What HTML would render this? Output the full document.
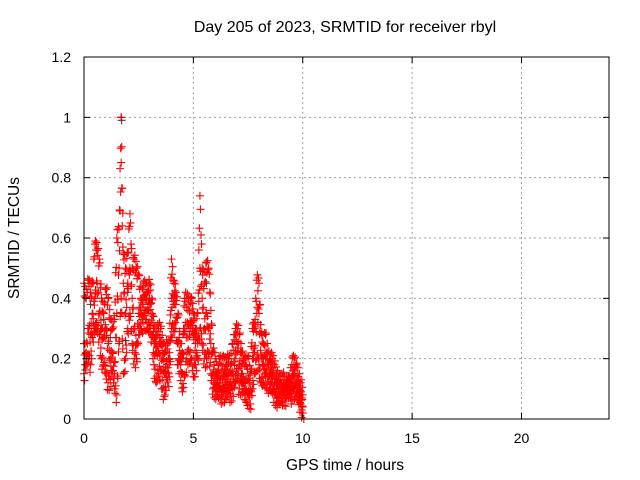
<!DOCTYPE html>
<html><head><meta charset="utf-8"><style>
html,body{margin:0;padding:0;background:#fff}
svg{display:block;font-family:"Liberation Sans",sans-serif}
</style></head><body>
<svg id="chart" width="640" height="480" viewBox="0 0 640 480" xmlns="http://www.w3.org/2000/svg">
<rect width="640" height="480" fill="#fff"/>
<text x="345" y="32" font-size="16" text-anchor="middle">Day 205 of 2023, SRMTID for receiver rbyl</text>
<text x="345" y="470" font-size="15.5" text-anchor="middle">GPS time / hours</text>
<text x="0" y="0" font-size="15.5" text-anchor="middle" transform="translate(19,238) rotate(-90)">SRMTID / TECUs</text>
<g id="grid"></g><g id="gray"></g><g id="red"></g><g id="axes"></g>
</svg>
<script>
const xTicks=[0,5,10,15,20];
const yTicks=[0,0.2,0.4,0.6,0.8,1,1.2];
const yTickLabels=["0","0.2","0.4","0.6","0.8","1","1.2"];
const startHour=0, stepHour=0.1;
const hiVals=[.45,.40,.46,.42,.45,.58,.56,.53,.40,.35,.43,.40,.33,.30,.33,.60,.63,1.0,.55,.50,.55,.68,.50,.53,.50,.48,.40,.43,.45,.42,.45,.40,.30,.28,.30,.30,.25,.22,.25,.22,.53,.45,.42,.35,.25,.22,.40,.40,.38,.40,.35,.30,.35,.74,.50,.45,.52,.50,.36,.22,.20,.15,.20,.18,.20,.18,.20,.18,.25,.28,.30,.28,.22,.20,.18,.20,.15,.30,.30,.46,.45,.28,.25,.28,.22,.20,.20,.18,.15,.14,.12,.14,.12,.13,.12,.18,.20,.18,.14,.12,.08];
const midVals=[.25,.22,.30,.28,.35,.40,.45,.35,.30,.27,.30,.25,.20,.22,.15,.35,.50,.85,.45,.35,.45,.50,.40,.30,.25,.35,.35,.38,.40,.36,.38,.35,.25,.22,.22,.25,.20,.15,.18,.18,.40,.40,.38,.25,.20,.15,.30,.30,.30,.32,.28,.25,.25,.50,.40,.30,.35,.30,.25,.15,.12,.12,.12,.10,.14,.12,.15,.12,.15,.20,.25,.18,.15,.12,.10,.12,.10,.20,.22,.35,.35,.20,.18,.20,.18,.15,.15,.12,.10,.10,.10,.10,.10,.10,.10,.12,.14,.12,.10,.08,.04];
const loVals=[.15,.18,.20,.18,.28,.30,.30,.28,.20,.18,.15,.12,.13,.16,.10,.08,.25,.40,.15,.20,.30,.35,.25,.20,.20,.28,.30,.32,.33,.30,.30,.28,.18,.12,.15,.16,.10,.08,.13,.14,.30,.30,.30,.18,.18,.09,.14,.20,.22,.20,.14,.18,.20,.30,.25,.20,.20,.22,.15,.10,.10,.08,.08,.08,.09,.07,.10,.08,.10,.12,.15,.10,.12,.09,.06,.08,.05,.10,.15,.20,.18,.12,.12,.14,.12,.10,.10,.08,.07,.06,.06,.08,.07,.08,.08,.08,.10,.08,.06,.05,.02];
const grayT=[1.7,1.72,0.3,0.9,1.2,2.0,2.8,3.3,4.1,4.8,5.6,6.5,7.3,8.2,9.2,0.1,1.9,3.0,5.0];
const grayV=[1.0,0.99,0.38,0.33,0.27,0.42,0.36,0.25,0.38,0.3,0.45,0.15,0.14,0.2,0.1,0.2,0.26,0.4,0.28];
const X0=84,X1=609,Y0=419,Y1=57;
const sx=h=>X0+(h-0)/24*(X1-X0);
const sy=v=>Y0-(v/1.2)*(Y0-Y1);
const NS="http://www.w3.org/2000/svg";
function mk(tag,attrs,parent){const e=document.createElementNS(NS,tag);for(const k in attrs)e.setAttribute(k,attrs[k]);parent.appendChild(e);return e;}
const grid=document.getElementById('grid'),axes=document.getElementById('axes');
xTicks.forEach(t=>{const x=sx(t);
 if(t>0){const g=mk('line',{x1:x,x2:x,y1:Y1,y2:Y0,stroke:'#a0a0a0','stroke-dasharray':'2,3'},grid);}
 mk('line',{x1:x,x2:x,y1:Y0,y2:Y0-6,stroke:'#000'},axes);mk('line',{x1:x,x2:x,y1:Y1,y2:Y1+6,stroke:'#000'},axes);
 const l=mk('text',{x:x,y:443,'font-size':14,'text-anchor':'middle'},axes);l.textContent=t;
 });
yTicks.forEach((t,i)=>{const y=sy(t);
 if(t>0&&t<1.2){const g=mk('line',{x1:X0,x2:X1,y1:y,y2:y,stroke:'#a0a0a0','stroke-dasharray':'2,3'},grid);}
 mk('line',{x1:X0,x2:X0+6,y1:y,y2:y,stroke:'#000'},axes);mk('line',{x1:X1,x2:X1-6,y1:y,y2:y,stroke:'#000'},axes);
 const l=mk('text',{x:71,y:y+5,'font-size':14,'text-anchor':'end'},axes);l.textContent=yTickLabels[i];
 });
const fr=mk('rect',{x:X0,y:Y1,width:X1-X0,height:Y0-Y1,fill:'none',stroke:'#000'},axes);

function plus(g,h,v,col){const x=sx(h),y=sy(v);
 const p=mk('path',{d:`M${x-4},${y}h8M${x},${y-4}v8`,stroke:col,'stroke-width':1.1,fill:'none'},g);
 }
const gg=document.getElementById('gray'),rg=document.getElementById('red');
grayT.forEach((t,i)=>plus(gg,t,grayV[i],'#404040'));
const offs=[0.02,-0.03,0.015,-0.01];
[hiVals,midVals,loVals].forEach(arr=>arr.forEach((v,i)=>{
 const h=startHour+i*stepHour;plus(rg,h,v,'#ff0000');
 if(i<arr.length-1){for(let k=1;k<4;k++){const f=k/4;
  plus(rg,h+stepHour*f,v+(arr[i+1]-v)*f+offs[(i+k)%4],'#ff0000');}}}));
plus(rg,10.05,0,'#ff0000');
</script>
</body></html>
